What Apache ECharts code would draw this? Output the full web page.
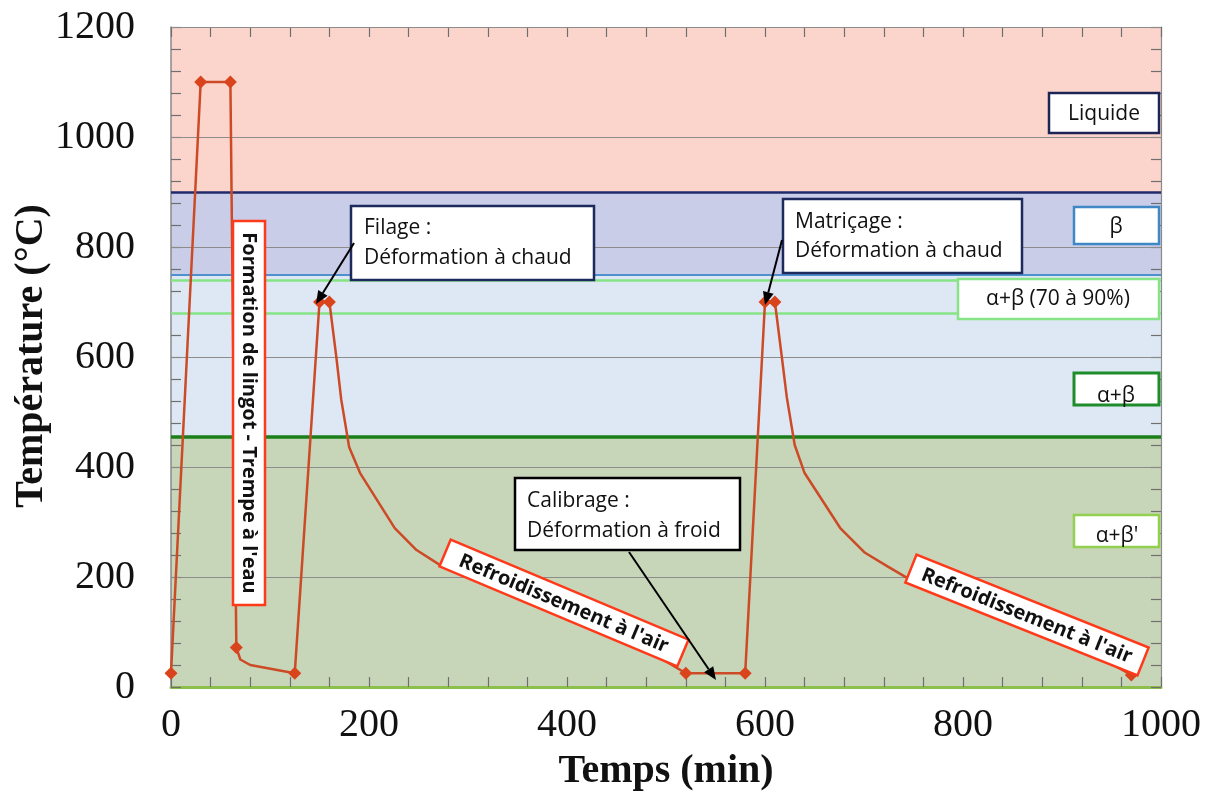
<!DOCTYPE html>
<html>
<head>
<meta charset="utf-8">
<script src="https://cdn.jsdelivr.net/npm/echarts@6/dist/echarts.min.js"></script>
<style>html,body{margin:0;padding:0;background:#fff}#c{width:1212px;height:793px}</style>
</head>
<body>
<div id="c"></div>
<script>
// ---- data ----
const times = [0, 30, 60, 66, 70, 80, 125, 150, 160, 167, 172, 180, 191, 226, 248, 275, 320, 380, 440, 480, 520,
               580, 600, 610, 617, 622, 630, 640, 676, 701, 725, 744, 790, 830, 890, 930, 970];
const temps = [25, 1100, 1100, 72, 50, 40, 25, 700, 700, 600, 522, 436, 389, 289, 249, 218, 190, 145, 100, 68, 25,
               25, 700, 700, 600, 527, 440, 389, 289, 244, 218, 198, 168, 135, 92, 62, 22];
const marked = [1,1,1,1,0,0,1,1,1,0,0,0,0,0,0,0,0,0,0,0,1,
                1,1,1,0,0,0,0,0,0,0,0,0,0,0,0,1];
const gridTemps = [200, 400, 600, 800, 1000, 1200];
const phaseBands = [[900, 1200], [750, 900], [455, 750], [0, 455]];
const phaseLines = [900, 750, 740, 680, 455];
const xTickLabels = [0, 200, 400, 600, 800, 1000];
const yTickLabels = [0, 200, 400, 600, 800, 1000, 1200];

const bandColors = ['#fbd4cb', '#c9cde8', '#dde8f4', '#c7d5b9'];
const lineStyles = [
  {color: '#1f2a6b', width: 2.5},
  {color: '#4f91cd', width: 2},
  {color: '#86e386', width: 2.5},
  {color: '#86e386', width: 2.5},
  {color: '#1a7f1a', width: 3.5}
];

const chart = echarts.init(document.getElementById('c'), null, {renderer: 'canvas'});

function box(x, y, w, h, stroke, lw) {
  return {type: 'rect', shape: {x: x, y: y, width: w, height: h}, style: {fill: '#fff', stroke: stroke, lineWidth: lw}, z: 100};
}
function txt(t, x, y, font, align, valign) {
  return {type: 'text', x: x, y: y, z: 101,
    style: {text: t, font: font, fill: '#111', textAlign: align || 'left', textVerticalAlign: valign || 'middle', verticalAlign: valign || 'middle'}};
}
function arrow(x1, y1, x2, y2) {
  const a = Math.atan2(y2 - y1, x2 - x1), L = 13, W = 5.5;
  const bx = x2 - L * Math.cos(a), by = y2 - L * Math.sin(a);
  const px = -Math.sin(a) * W, py = Math.cos(a) * W;
  return [
    {type: 'line', z: 102, shape: {x1: x1, y1: y1, x2: bx, y2: by}, style: {stroke: '#000', lineWidth: 2}},
    {type: 'polygon', z: 102, shape: {points: [[x2, y2], [bx + px, by + py], [bx - px, by - py]]}, style: {fill: '#000'}}
  ];
}
function rotBox(cx, cy, w, h, angDeg, t) {
  return {type: 'group', x: cx, y: cy, rotation: -angDeg * Math.PI / 180, z: 100, children: [
    {type: 'rect', shape: {x: -w / 2, y: -h / 2, width: w, height: h}, style: {fill: '#fff', stroke: '#ff3a1a', lineWidth: 2.5}, z: 100},
    {type: 'text', x: 0, y: 1, z: 101, style: {text: t, font: 'bold 20px "Open Sans"', fill: '#111', textAlign: 'center', textVerticalAlign: 'middle', verticalAlign: 'middle'}}
  ]};
}

const annFont = '21px "Open Sans"';
const graphics = [].concat(
  [{type: 'group', z: 100, children: [
    box(233, 221, 32, 384, '#ff3a1a', 2.5),
    {type: 'text', x: 249, y: 413, rotation: -Math.PI / 2, z: 101,
     style: {text: "Formation de lingot - Trempe à l'eau", font: 'bold 20px "Open Sans"', fill: '#111', textAlign: 'center', textVerticalAlign: 'middle', verticalAlign: 'middle'}}
  ]}],
  [box(351, 206, 243, 74, '#1f2a5c', 2.5), txt('Filage :', 364, 228, annFont), txt('Déformation à chaud', 364, 258, annFont)],
  arrow(354, 243, 316, 304),
  [box(783, 199, 239, 74, '#1f2a5c', 2.5), txt('Matriçage :', 795, 222, annFont), txt('Déformation à chaud', 795, 251, annFont)],
  arrow(782, 240, 765, 305),
  [box(515, 478, 225, 72, '#000', 2.5), txt('Calibrage :', 527, 501, annFont), txt('Déformation à froid', 527, 531, annFont)],
  arrow(629, 552, 716, 680),
  [rotBox(564, 603, 258, 29, 22.8, "Refroidissement à l'air"), rotBox(1027, 615, 250, 30, 21.8, "Refroidissement à l'air")],
  [box(1049, 93, 110, 40, '#1c2556', 2.5), txt('Liquide', 1104, 114, annFont, 'center')],
  [box(1074, 207, 85, 37, '#3f88c5', 2.5), txt('β', 1116, 227, annFont, 'center')],
  [box(958, 279, 201, 40, '#86e386', 2.5), txt('α+β (70 à 90%)', 1058, 299, annFont, 'center')],
  [box(1074, 373, 85, 32, '#1f8c2a', 3), txt('α+β', 1116, 396, annFont, 'center')],
  [box(1074, 515, 85, 32, '#92d050', 2.5), txt("α+β'", 1117, 536, annFont, 'center')],
  [{type: 'text', x: 32, y: 356, rotation: Math.PI / 2, z: 101,
    style: {text: 'Température (°C)', font: 'bold 40px "Liberation Serif"', fill: '#111', textAlign: 'center', textVerticalAlign: 'middle', verticalAlign: 'middle'}},
   {type: 'text', x: 666, y: 772, z: 101,
    style: {text: 'Temps (min)', font: 'bold 40px "Liberation Serif"', fill: '#111', textAlign: 'center', textVerticalAlign: 'middle', verticalAlign: 'middle'}}]
);

const curveData = times.map((t, i) => ({
  value: [t, temps[i]],
  symbol: marked[i] ? 'diamond' : 'none',
  symbolSize: marked[i] ? 13 : 0
}));

const labelFont = () => ({fontFamily: 'Liberation Serif', fontSize: 40, color: '#111'});
const tick = () => ({show: true, inside: true, length: 10, lineStyle: {color: '#6f6f6f', width: 1.2}});

chart.setOption({
  animation: false,
  grid: {left: 171, right: 51, top: 27, bottom: 106},
  xAxis: [
    {type: 'value', min: 0, max: 1000, interval: 40, z: 4,
     axisLine: {show: true, onZero: false, lineStyle: {color: '#8dbf4b', width: 3}},
     axisTick: tick(), splitLine: {show: false},
     axisLabel: Object.assign({margin: 18, formatter: v => xTickLabels.indexOf(v) >= 0 ? String(v) : ''}, labelFont())},
    {type: 'value', position: 'top', min: 0, max: 1000, interval: 40, z: 4,
     axisLine: {show: true, onZero: false, lineStyle: {color: '#8a8a8a', width: 1.2}},
     axisTick: tick(), axisLabel: {show: false}, splitLine: {show: false}}
  ],
  yAxis: [
    {type: 'value', position: 'left', min: 0, max: 1200, interval: 40, z: 4,
     axisLine: {show: true, onZero: false, lineStyle: {color: '#8a8a8a', width: 1.5}},
     axisTick: tick(), splitLine: {show: false},
     axisLabel: Object.assign({inside: false, margin: 36, formatter: v => yTickLabels.indexOf(v) >= 0 ? String(v) : ''}, labelFont())},
    {type: 'value', position: 'right', min: 0, max: 1200, interval: 40, z: 4,
     axisLine: {show: true, onZero: false, lineStyle: {color: '#8a8a8a', width: 1.2}},
     axisTick: tick(), axisLabel: {show: false}, splitLine: {show: false}}
  ],
  series: [
    {type: 'line', data: [], z: 1, silent: true,
     markArea: {silent: true, data: phaseBands.map((b, i) => [{yAxis: b[0], itemStyle: {color: bandColors[i], opacity: 1}}, {yAxis: b[1]}])}},
    {type: 'line', data: [], z: 2, silent: true,
     markLine: {silent: true, symbol: 'none', label: {show: false},
       lineStyle: {color: '#8c8c8c', width: 1, type: 'solid'},
       data: gridTemps.map(v => ({yAxis: v}))}},
    {type: 'line', data: [], z: 3, silent: true,
     markLine: {silent: true, symbol: 'none', label: {show: false},
       data: phaseLines.map((v, i) => ({yAxis: v, lineStyle: Object.assign({type: 'solid'}, lineStyles[i])}))}},
    {type: 'line', data: curveData, z: 5, showSymbol: true,
     lineStyle: {color: '#cc4a26', width: 2.5},
     itemStyle: {color: '#d9441c'}}
  ],
  graphic: graphics
});
</script>
</body>
</html>
